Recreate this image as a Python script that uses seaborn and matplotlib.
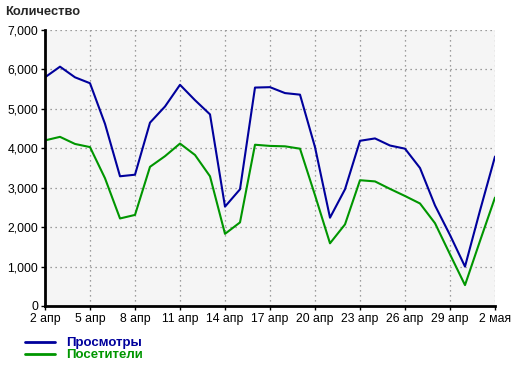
import matplotlib
matplotlib.use("Agg")
import matplotlib.pyplot as plt
import seaborn as sns
import pandas as pd
from matplotlib.lines import Line2D
from matplotlib.ticker import FuncFormatter

days = list(range(31))
views = [5800, 6070, 5800, 5650, 4620, 3290, 3330, 4650, 5060, 5610, 5220, 4860, 2520, 2960,
         5540, 5550, 5400, 5360, 4030, 2240, 2960, 4190, 4250, 4070, 3990, 3500, 2550, 1800,
         1000, 2420, 3790]
visitors = [4200, 4290, 4110, 4030, 3240, 2220, 2310, 3530, 3800, 4120, 3830, 3290, 1830, 2120,
            4090, 4060, 4050, 3990, 2810, 1590, 2070, 3190, 3160, 2970, 2790, 2600, 2100, 1310,
            530, 1650, 2750]
tick_days = [0, 3, 6, 9, 12, 15, 18, 21, 24, 27, 30]
tick_labels = ["2 апр", "5 апр", "8 апр", "11 апр", "14 апр", "17 апр", "20 апр",
               "23 апр", "26 апр", "29 апр", "2 мая"]
series_names = ["Просмотры", "Посетители"]
colors = ["#00009c", "#009600"]

df = pd.DataFrame({
    "day": days * 2,
    "value": views + visitors,
    "series": [series_names[0]] * 31 + [series_names[1]] * 31,
})

sns.set_style("white")
plt.rcParams["font.family"] = ["Liberation Sans", "DejaVu Sans"]

fig = plt.figure(figsize=(5.2, 3.66), dpi=100)
ax = fig.add_axes([45 / 520, 1 - 306 / 366, 450 / 520, 276 / 366])
ax.set_facecolor("#f5f5f5")

sns.lineplot(data=df, x="day", y="value", hue="series", palette=colors,
             hue_order=series_names, linewidth=1.5, ax=ax, legend=False)

ax.set_xlim(0, 30)
ax.set_ylim(0, 7000)
ax.set_xticks(tick_days)
ax.set_xticklabels(tick_labels)
ax.set_yticks(range(0, 7001, 1000))
ax.yaxis.set_major_formatter(FuncFormatter(lambda v, p: f"{int(v):,}"))
ax.set_xlabel("")
ax.set_ylabel("")

ax.grid(True, linestyle=(0, (1, 3)), color="#808080", linewidth=0.9)
for s in ["top", "right"]:
    ax.spines[s].set_visible(False)
for s in ["left", "bottom"]:
    ax.spines[s].set_color("black")
    ax.spines[s].set_linewidth(2)
ax.tick_params(axis="both", labelsize=8.8, colors="black", length=3, width=1, pad=2,
               direction="out", left=True, bottom=True)

fig.text(5 / 520, 1 - 12 / 366, "Количество", fontsize=9.3, fontweight="bold",
         va="center", ha="left")

handles = [Line2D([0], [0], color=c, linewidth=2) for c in colors]
leg = fig.legend(handles, series_names, loc="upper left",
                 bbox_to_anchor=(25 / 520, 1 - 337 / 366), frameon=False,
                 borderaxespad=0, handlelength=2.3, handletextpad=0.8,
                 labelspacing=0.0, borderpad=0, prop={"size": 9.5, "weight": "bold"})
for t, c in zip(leg.get_texts(), colors):
    t.set_color(c)

fig.savefig("out.png", dpi=100)
